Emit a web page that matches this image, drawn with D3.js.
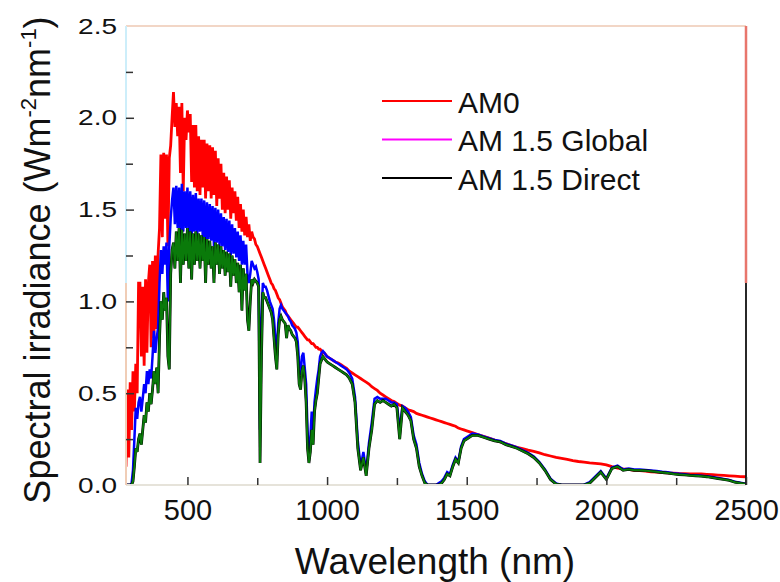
<!DOCTYPE html>
<html>
<head>
<meta charset="utf-8">
<script src="https://cdn.jsdelivr.net/npm/d3@7"></script>
<style>
body{margin:0;background:#fff;}
text{font-family:"Liberation Sans",Arial,sans-serif;fill:#111;}
</style>
</head>
<body>
<div id="viz-container"></div>
<script>
// wavelengths (nm), three sampling bands
let wlVis=[280,285,290,295,300,305,310,315,320,325,330,335,340,345,350,355,360,365,370,375,
  380,385,390,395,400,405,410,415,420,425,430,435,440,445,450,455,460,465,470,475,
  480,485,490,495,500,505,510,515,520,525,530,535,540,545,550,555,560,565,570,575,
  580,585,590,595,600,605,610,615,620,625,630,635,640,645,650,655,660,665,670,675,
  680,685,690,695,700,705,710,715,720,725,730,735,740,745,750,755,760,765,770,775,
  780,785,790,795,800,805,810,815,820,825,830,835,840,845,850,855,860,865,870,875,
  880,885,890,895,900,905,910,915,920,925,930,935,940,945,950,955,960,965,970,975,
  980,985,990,995,1000];
let wlNir=[1010,1020,1030,1040,1050,1060,1070,1080,1090,1100,
  1110,1120,1130,1140,1150,1160,1170,1180,1190,1200,
  1210,1220,1230,1240,1250,1260,1270,1280,1290,1300,
  1310,1320,1330,1340,1350,1360,1370,1380,1390,1400,
  1410,1420,1430,1440,1450,1460,1470,1480,1490,1500];
let wlIr=[1520,1540,1560,1580,1600,1620,1640,1660,1680,1700,
  1720,1740,1760,1780,1800,1820,1840,1860,1880,1900,
  1920,1940,1960,1980,2000,2020,2040,2060,2080,2100,
  2120,2140,2160,2180,2200,2220,2240,2260,2280,2300,
  2320,2340,2360,2380,2400,2420,2440,2460,2480,2500];

// AM0 (W m-2 nm-1)
let am0Vis=[0.10,0.52,0.15,0.56,0.30,0.62,0.40,0.66,0.50,1.10,
  1.10,0.70,1.08,0.65,1.12,0.72,1.10,1.20,0.75,1.22,
  0.80,1.25,0.85,1.26,1.40,1.80,1.35,1.81,1.45,1.80,
  1.30,1.78,1.85,2.00,2.14,1.95,2.08,1.90,2.06,1.70,
  2.08,1.60,2.00,1.88,2.04,1.92,2.02,1.65,1.96,1.62,
  1.96,1.60,1.90,1.58,1.88,1.62,1.88,1.56,1.86,1.60,
  1.85,1.56,1.84,1.58,1.82,1.52,1.78,1.56,1.75,1.50,
  1.70,1.48,1.68,1.50,1.66,1.45,1.62,1.48,1.60,1.44,
  1.57,1.40,1.53,1.38,1.50,1.36,1.46,1.35,1.42,1.33,
  1.38,1.35,1.34,1.31,1.30,1.28,1.26,1.24,1.22,1.20,
  1.18,1.16,1.14,1.12,1.10,1.09,1.07,1.06,1.04,1.02,
  1.01,0.99,0.97,0.96,0.95,0.93,0.92,0.91,0.90,0.89,
  0.88,0.87,0.86,0.86,0.85,0.84,0.83,0.82,0.81,0.80,
  0.79,0.79,0.78,0.77,0.77,0.76,0.75,0.75,0.74,0.74,
  0.73,0.72,0.72,0.71,0.70];
let am0Nir=[0.69,0.68,0.67,0.665,0.655,0.645,0.635,0.62,0.61,0.60,
  0.59,0.58,0.57,0.56,0.55,0.535,0.525,0.515,0.50,0.49,
  0.48,0.47,0.46,0.455,0.445,0.435,0.43,0.42,0.41,0.405,
  0.40,0.39,0.385,0.38,0.375,0.37,0.365,0.36,0.355,0.35,
  0.345,0.34,0.335,0.33,0.325,0.32,0.31,0.305,0.30,0.295];
let am0Ir=[0.285,0.275,0.265,0.255,0.245,0.235,0.225,0.215,0.205,0.198,
  0.19,0.183,0.175,0.165,0.158,0.15,0.145,0.14,0.133,0.128,
  0.124,0.12,0.118,0.115,0.11,0.10,0.092,0.088,0.085,0.08,
  0.078,0.075,0.072,0.07,0.068,0.066,0.065,0.063,0.062,0.061,
  0.06,0.06,0.058,0.056,0.054,0.052,0.05,0.048,0.046,0.045];

// AM 1.5 Global
let globVis=[0,0,0,0,0.01,0.08,0.25,0.42,0.36,0.45,
  0.48,0.40,0.47,0.55,0.50,0.62,0.55,0.63,0.58,0.70,
  0.84,0.72,0.80,0.86,1.10,1.28,1.15,1.30,1.20,1.32,
  1.00,1.30,1.45,1.55,1.62,1.42,1.63,1.40,1.62,1.36,
  1.64,1.38,1.60,1.40,1.62,1.37,1.60,1.35,1.58,1.38,
  1.59,1.36,1.56,1.38,1.56,1.35,1.55,1.30,1.54,1.34,
  1.53,1.33,1.52,1.30,1.51,1.32,1.50,1.30,1.48,1.30,
  1.46,1.28,1.45,1.27,1.44,1.25,1.42,1.26,1.40,1.24,
  1.38,1.22,1.36,1.20,1.33,1.20,1.31,1.15,1.10,1.15,
  1.22,1.20,1.18,1.19,1.16,1.12,0.30,0.90,1.10,1.08,
  1.08,1.06,1.03,1.00,0.98,0.96,0.90,0.80,0.70,0.88,
  0.96,0.98,0.96,0.95,0.94,0.93,0.92,0.90,0.89,0.87,
  0.86,0.85,0.83,0.78,0.66,0.60,0.70,0.72,0.64,0.55,
  0.30,0.15,0.25,0.40,0.30,0.45,0.52,0.58,0.63,0.70,
  0.72,0.73,0.72,0.71,0.70];
let globNir=[0.69,0.68,0.67,0.66,0.65,0.64,0.63,0.61,0.58,0.48,
  0.24,0.10,0.18,0.07,0.23,0.34,0.47,0.48,0.47,0.47,
  0.47,0.46,0.45,0.45,0.44,0.30,0.43,0.42,0.40,0.37,
  0.27,0.22,0.12,0.06,0.02,0,0,0,0,0.01,
  0.02,0.04,0.07,0.06,0.11,0.15,0.13,0.21,0.25,0.26];
let globIr=[0.28,0.275,0.265,0.255,0.245,0.24,0.225,0.215,0.205,0.19,
  0.175,0.155,0.125,0.085,0.035,0.008,0,0,0,0,
  0.002,0.015,0.045,0.075,0.035,0.095,0.105,0.085,0.09,0.085,
  0.084,0.082,0.079,0.076,0.072,0.069,0.064,0.061,0.058,0.055,
  0.053,0.051,0.048,0.043,0.038,0.033,0.028,0.018,0.012,0.007];

// AM 1.5 Direct
let dirVis=[0,0,0,0,0,0.02,0.10,0.20,0.18,0.25,
  0.28,0.22,0.30,0.38,0.34,0.45,0.40,0.50,0.44,0.52,
  0.62,0.55,0.64,0.50,0.80,1.00,0.90,1.05,0.95,1.02,
  0.70,0.63,1.15,1.28,1.32,1.18,1.38,1.22,1.40,1.10,
  1.39,1.20,1.37,1.22,1.40,1.18,1.38,1.12,1.37,1.20,
  1.38,1.22,1.37,1.18,1.36,1.22,1.35,1.10,1.34,1.20,
  1.33,1.18,1.30,1.10,1.32,1.20,1.31,1.15,1.30,1.18,
  1.28,1.14,1.27,1.16,1.26,1.08,1.25,1.14,1.23,1.10,
  1.21,1.05,1.20,0.95,1.18,1.06,1.15,0.90,0.84,1.00,
  1.12,1.10,1.12,1.11,1.10,1.08,0.12,0.70,1.05,1.02,
  1.02,1.00,0.98,0.96,0.94,0.90,0.80,0.70,0.63,0.82,
  0.90,0.92,0.90,0.89,0.88,0.80,0.87,0.85,0.84,0.82,
  0.81,0.80,0.78,0.70,0.55,0.52,0.62,0.65,0.58,0.45,
  0.20,0.12,0.18,0.30,0.22,0.40,0.46,0.50,0.58,0.66,
  0.68,0.70,0.69,0.68,0.67];
let dirNir=[0.66,0.65,0.64,0.63,0.62,0.61,0.60,0.58,0.55,0.45,
  0.20,0.08,0.15,0.05,0.20,0.30,0.44,0.46,0.45,0.46,
  0.45,0.44,0.43,0.44,0.42,0.25,0.42,0.40,0.38,0.35,
  0.25,0.20,0.10,0.05,0.01,0,0,0,0,0,
  0.01,0.03,0.06,0.05,0.10,0.14,0.12,0.20,0.24,0.25];
let dirIr=[0.27,0.27,0.26,0.25,0.24,0.235,0.22,0.21,0.20,0.185,
  0.17,0.15,0.12,0.08,0.03,0.005,0,0,0,0,
  0,0.01,0.04,0.07,0.03,0.09,0.10,0.08,0.085,0.08,
  0.08,0.078,0.075,0.072,0.068,0.065,0.06,0.057,0.055,0.052,
  0.05,0.048,0.045,0.04,0.035,0.03,0.025,0.015,0.01,0.005];

let yTicks=[0,0.5,1.0,1.5,2.0,2.5];
let yMinor=[0.25,0.75,1.25,1.75,2.25];
let xTicks=[500,1000,1500,2000,2500];
let xMinor=[750,1250,1750,2250];
let legendNames=["AM0","AM 1.5 Global","AM 1.5 Direct"];
let legendColors=["#ff0000","#ff00ff","#000000"];

let wl=wlVis.concat(wlNir,wlIr);
function pts(vals){
  return wl.map(function(w,i){return {w:w,v:vals[i]};});
}
let am0=pts(am0Vis.concat(am0Nir,am0Ir));
let glob=pts(globVis.concat(globNir,globIr));
let dir=pts(dirVis.concat(dirNir,dirIr));

let pLeft=126, pRight=746, pTop=26, pBottom=485;

let x=d3.scaleLinear().domain([280,2500]).range([pLeft,pRight]);
let y=d3.scaleLinear().domain([0,2.5]).range([pBottom,pTop]);

let viz=d3.select("#viz-container")
  .append("svg")
    .attr("id","viz")
    .attr("width",780)
    .attr("height",582);

viz.append("clipPath").attr("id","plotclip")
  .append("rect")
    .attr("x",pLeft).attr("y",pTop)
    .attr("width",pRight-pLeft).attr("height",pBottom-pTop);

let line=d3.line().x(function(d){return x(d.w);}).y(function(d){return y(d.v);});

let plot=viz.append("g").attr("clip-path","url(#plotclip)");
plot.append("path").datum(am0)
  .attr("d",line).attr("fill","none")
  .attr("stroke","#ff0000").attr("stroke-width",2.8);
plot.append("path").datum(glob)
  .attr("d",line).attr("fill","none")
  .attr("stroke","#0000ff").attr("stroke-width",2.5);
plot.append("path").datum(dir)
  .attr("d",line).attr("fill","none")
  .attr("stroke","#000").attr("stroke-width",2.8);
plot.append("path").datum(dir)
  .attr("d",line).attr("fill","none")
  .attr("stroke","#0a7a0a").attr("stroke-width",1.9);

// frame
viz.append("line").attr("x1",pLeft).attr("x2",pRight).attr("y1",pTop).attr("y2",pTop)
  .attr("stroke","#f2d6c6").attr("stroke-width",2);
viz.append("line").attr("x1",pLeft).attr("x2",pRight).attr("y1",pBottom).attr("y2",pBottom)
  .attr("stroke","#e6e3da").attr("stroke-width",2);
viz.append("line").attr("x1",pLeft).attr("x2",pLeft).attr("y1",pTop).attr("y2",y(1.1))
  .attr("stroke","#cdeefa").attr("stroke-width",2);
viz.append("line").attr("x1",pLeft).attr("x2",pLeft).attr("y1",y(1.1)).attr("y2",pBottom)
  .attr("stroke","#f0cdb6").attr("stroke-width",2);
viz.append("line").attr("x1",pRight).attr("x2",pRight).attr("y1",pTop).attr("y2",y(1.1))
  .attr("stroke","#e8766c").attr("stroke-width",2.5);
viz.append("line").attr("x1",pRight).attr("x2",pRight).attr("y1",y(1.1)).attr("y2",pBottom)
  .attr("stroke","#111").attr("stroke-width",1.8);

// axes, ticks inward
let yAxis=viz.append("g").attr("transform","translate("+pLeft+",0)")
  .call(d3.axisLeft(y).tickValues(yTicks).tickFormat(d3.format(".1f")).tickSize(-8).tickPadding(9));
let yAxisMinor=viz.append("g").attr("transform","translate("+pLeft+",0)")
  .call(d3.axisLeft(y).tickValues(yMinor).tickFormat("").tickSize(-7));
let xAxis=viz.append("g").attr("transform","translate(0,"+pBottom+")")
  .call(d3.axisBottom(x).tickValues(xTicks).tickFormat(d3.format("d")).tickSize(-8).tickPadding(14));
let xAxisMinor=viz.append("g").attr("transform","translate(0,"+pBottom+")")
  .call(d3.axisBottom(x).tickValues(xMinor).tickFormat("").tickSize(-7));

viz.selectAll(".domain").remove();
viz.selectAll(".tick line").attr("stroke","#333").attr("stroke-width",1.5);
yAxis.selectAll("text")
  .style("font-size","28px")
  .attr("transform","scale(1,0.8)");
xAxis.selectAll("text")
  .style("font-size","29px");
// the top / end tick marks sit on the frame
yAxis.selectAll(".tick").filter(function(d){return d==2.5||d==0;}).select("line").remove();

// titles
viz.append("text")
  .attr("x",435).attr("y",574)
  .attr("text-anchor","middle")
  .style("font-size","37px")
  .text("Wavelength (nm)");

let yt=viz.append("text")
  .attr("transform","translate(50,260) rotate(-90)")
  .attr("text-anchor","middle")
  .style("font-size","36px");
yt.append("tspan").text("Spectral irradiance (Wm");
yt.append("tspan").attr("dy",-14).style("font-size","22px").text("-2");
yt.append("tspan").attr("dy",14).text("nm");
yt.append("tspan").attr("dy",-14).style("font-size","22px").text("-1");
yt.append("tspan").attr("dy",14).text(")");

// legend
let lg=viz.selectAll(".lg").data(legendNames).enter()
  .append("g").attr("class","lg")
  .attr("transform",function(d,i){return "translate(382,"+(101+i*38.5)+")";});
lg.append("line")
  .attr("x1",0).attr("x2",70).attr("y1",0).attr("y2",0)
  .attr("stroke",function(d,i){return legendColors[i];})
  .attr("stroke-width",2);
lg.append("text")
  .attr("x",76).attr("y",11.5)
  .style("font-size","30px")
  .text(function(d){return d;});
</script>
</body>
</html>
